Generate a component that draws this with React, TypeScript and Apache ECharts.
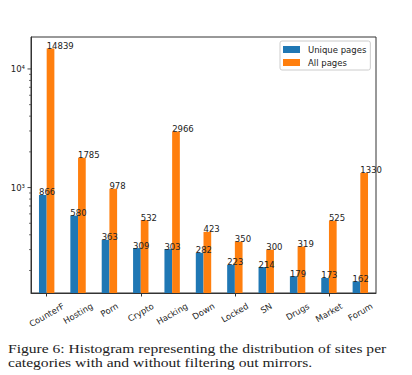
import React, { useEffect, useRef } from "react";
import * as echarts from "echarts";

const categories = ["CounterF", "Hosting", "Porn", "Crypto", "Hacking", "Down", "Locked", "SN", "Drugs", "Market", "Forum"];
const uniquePages = [866, 580, 363, 309, 303, 282, 223, 214, 179, 173, 162];
const allPages = [14839, 1785, 978, 532, 2966, 423, 350, 300, 319, 525, 1330];
const yMajorTicks = [1000, 10000];
const yMinorTicks = [200, 300, 400, 500, 600, 700, 800, 900, 2000, 3000, 4000, 5000, 6000, 7000, 8000, 9000];
const Y_MIN = 129.2;
const Y_MAX = 18590;
const caption = "Figure 6: Histogram representing the distribution of sites per\ncategories with and without filtering out mirrors.";

const FONT = '"DejaVu Sans", sans-serif';
const FS = 8.5;
const AXIS = "#333";

let measureCtx: CanvasRenderingContext2D | null = null;
function measure(t: string): number {
  if (!measureCtx) measureCtx = document.createElement("canvas").getContext("2d");
  if (!measureCtx) return t.length * FS * 0.6;
  measureCtx.font = `${FS}px "DejaVu Sans"`;
  return measureCtx.measureText(t).width;
}

const sup: Record<string, string> = { "0": "⁰", "1": "¹", "2": "²", "3": "³", "4": "⁴", "5": "⁵" };

export default function App() {
  const ref = useRef<HTMLDivElement>(null);
  useEffect(() => {
    if (!ref.current) return;
    const chart = echarts.init(ref.current, null, { renderer: "svg" });
    const barLabel = {
      show: true,
      position: [0, 0],
      align: "left",
      verticalAlign: "bottom",
      offset: [0, 2],
      fontFamily: FONT,
      fontSize: FS,
      color: "#222",
    };
    chart.setOption({
      animation: false,
      backgroundColor: "#fff",
      grid: { left: 31, right: 36, top: 37, bottom: 82, show: true, borderColor: AXIS, borderWidth: 1, backgroundColor: "transparent" },
      legend: {
        data: ["Unique pages", "All pages"],
        orient: "vertical",
        left: 280,
        top: 41,
        padding: [4, 4, 3, 3],
        itemWidth: 17,
        itemHeight: 7,
        itemGap: 4,
        icon: "rect",
        backgroundColor: "rgba(255,255,255,0.8)",
        borderColor: "#ccc",
        borderWidth: 1,
        borderRadius: 2,
        textStyle: { fontFamily: FONT, fontSize: FS, color: "#222", padding: [0, 0, 0, 3], lineHeight: 9 },
      },
      xAxis: {
        type: "category",
        data: categories,
        axisLine: { show: true, lineStyle: { color: AXIS, width: 1 } },
        axisTick: { show: true, alignWithLabel: true, length: 3.5, lineStyle: { color: AXIS } },
        axisLabel: { show: false },
        splitLine: { show: false },
      },
      yAxis: {
        type: "log",
        logBase: 10,
        min: Y_MIN,
        max: Y_MAX,
        axisLine: { show: true, lineStyle: { color: AXIS, width: 1 } },
        axisTick: { show: false },
        splitLine: { show: false },
        axisLabel: {
          margin: 6,
          fontFamily: FONT,
          fontSize: FS,
          color: "#222",
          formatter: (v: number) => {
            const l = Math.log10(v);
            if (Math.abs(l - Math.round(l)) > 1e-6) return "";
            return "10" + String(Math.round(l)).split("").map((d) => sup[d] || d).join("");
          },
        },
      },
      series: [
        {
          name: "Unique pages",
          type: "bar",
          data: uniquePages,
          barWidth: 7.7,
          barGap: "0%",
          itemStyle: { color: "#1f77b4" },
          label: barLabel,
        },
        {
          name: "All pages",
          type: "bar",
          data: allPages,
          barWidth: 7.7,
          barGap: "0%",
          itemStyle: { color: "#ff7f0e" },
          label: barLabel,
        },
        {
          type: "custom",
          silent: true,
          clip: false,
          data: [...yMajorTicks.map((v) => [0, v, 1]), ...yMinorTicks.map((v) => [0, v, 0])],
          encode: { x: 0, y: 1 },
          renderItem: (params: any, api: any) => {
            const p = api.coord([0, api.value(1)]);
            const x0 = params.coordSys.x;
            const len = api.value(2) ? 3.5 : 2;
            return {
              type: "line",
              shape: { x1: x0 - len, y1: p[1], x2: x0, y2: p[1] },
              style: { stroke: AXIS, lineWidth: api.value(2) ? 0.9 : 0.7 },
            };
          },
        },
        {
          type: "custom",
          silent: true,
          clip: false,
          data: categories.map((_, i) => [i, Y_MIN]),
          encode: { x: 0, y: 1 },
          renderItem: (params: any, api: any) => {
            const i = api.value(0);
            const p = api.coord([i, Y_MIN]);
            const text = categories[i];
            const w = measure(text);
            const h = FS * 1.17;
            const H = w * 0.5 + h * 0.866;
            const y0 = params.coordSys.y + params.coordSys.height + 8;
            return {
              type: "text",
              x: p[0],
              y: y0 + H / 2,
              rotation: Math.PI / 6,
              style: { text, align: "center", verticalAlign: "middle", fontFamily: FONT, fontSize: FS, fill: "#222" },
            };
          },
        },
      ],
      graphic: [
        {
          type: "text",
          x: 8,
          y: 341,
          scaleX: 1.2,
          style: { text: caption, fontFamily: '"Liberation Serif", serif', fontSize: 13, lineHeight: 14, fill: "#222", verticalAlign: "top" },
        },
      ],
    });
    return () => chart.dispose();
  }, []);
  return <div ref={ref} style={{ position: "fixed", left: 0, top: 0, width: 412, height: 375 }} />;
}
